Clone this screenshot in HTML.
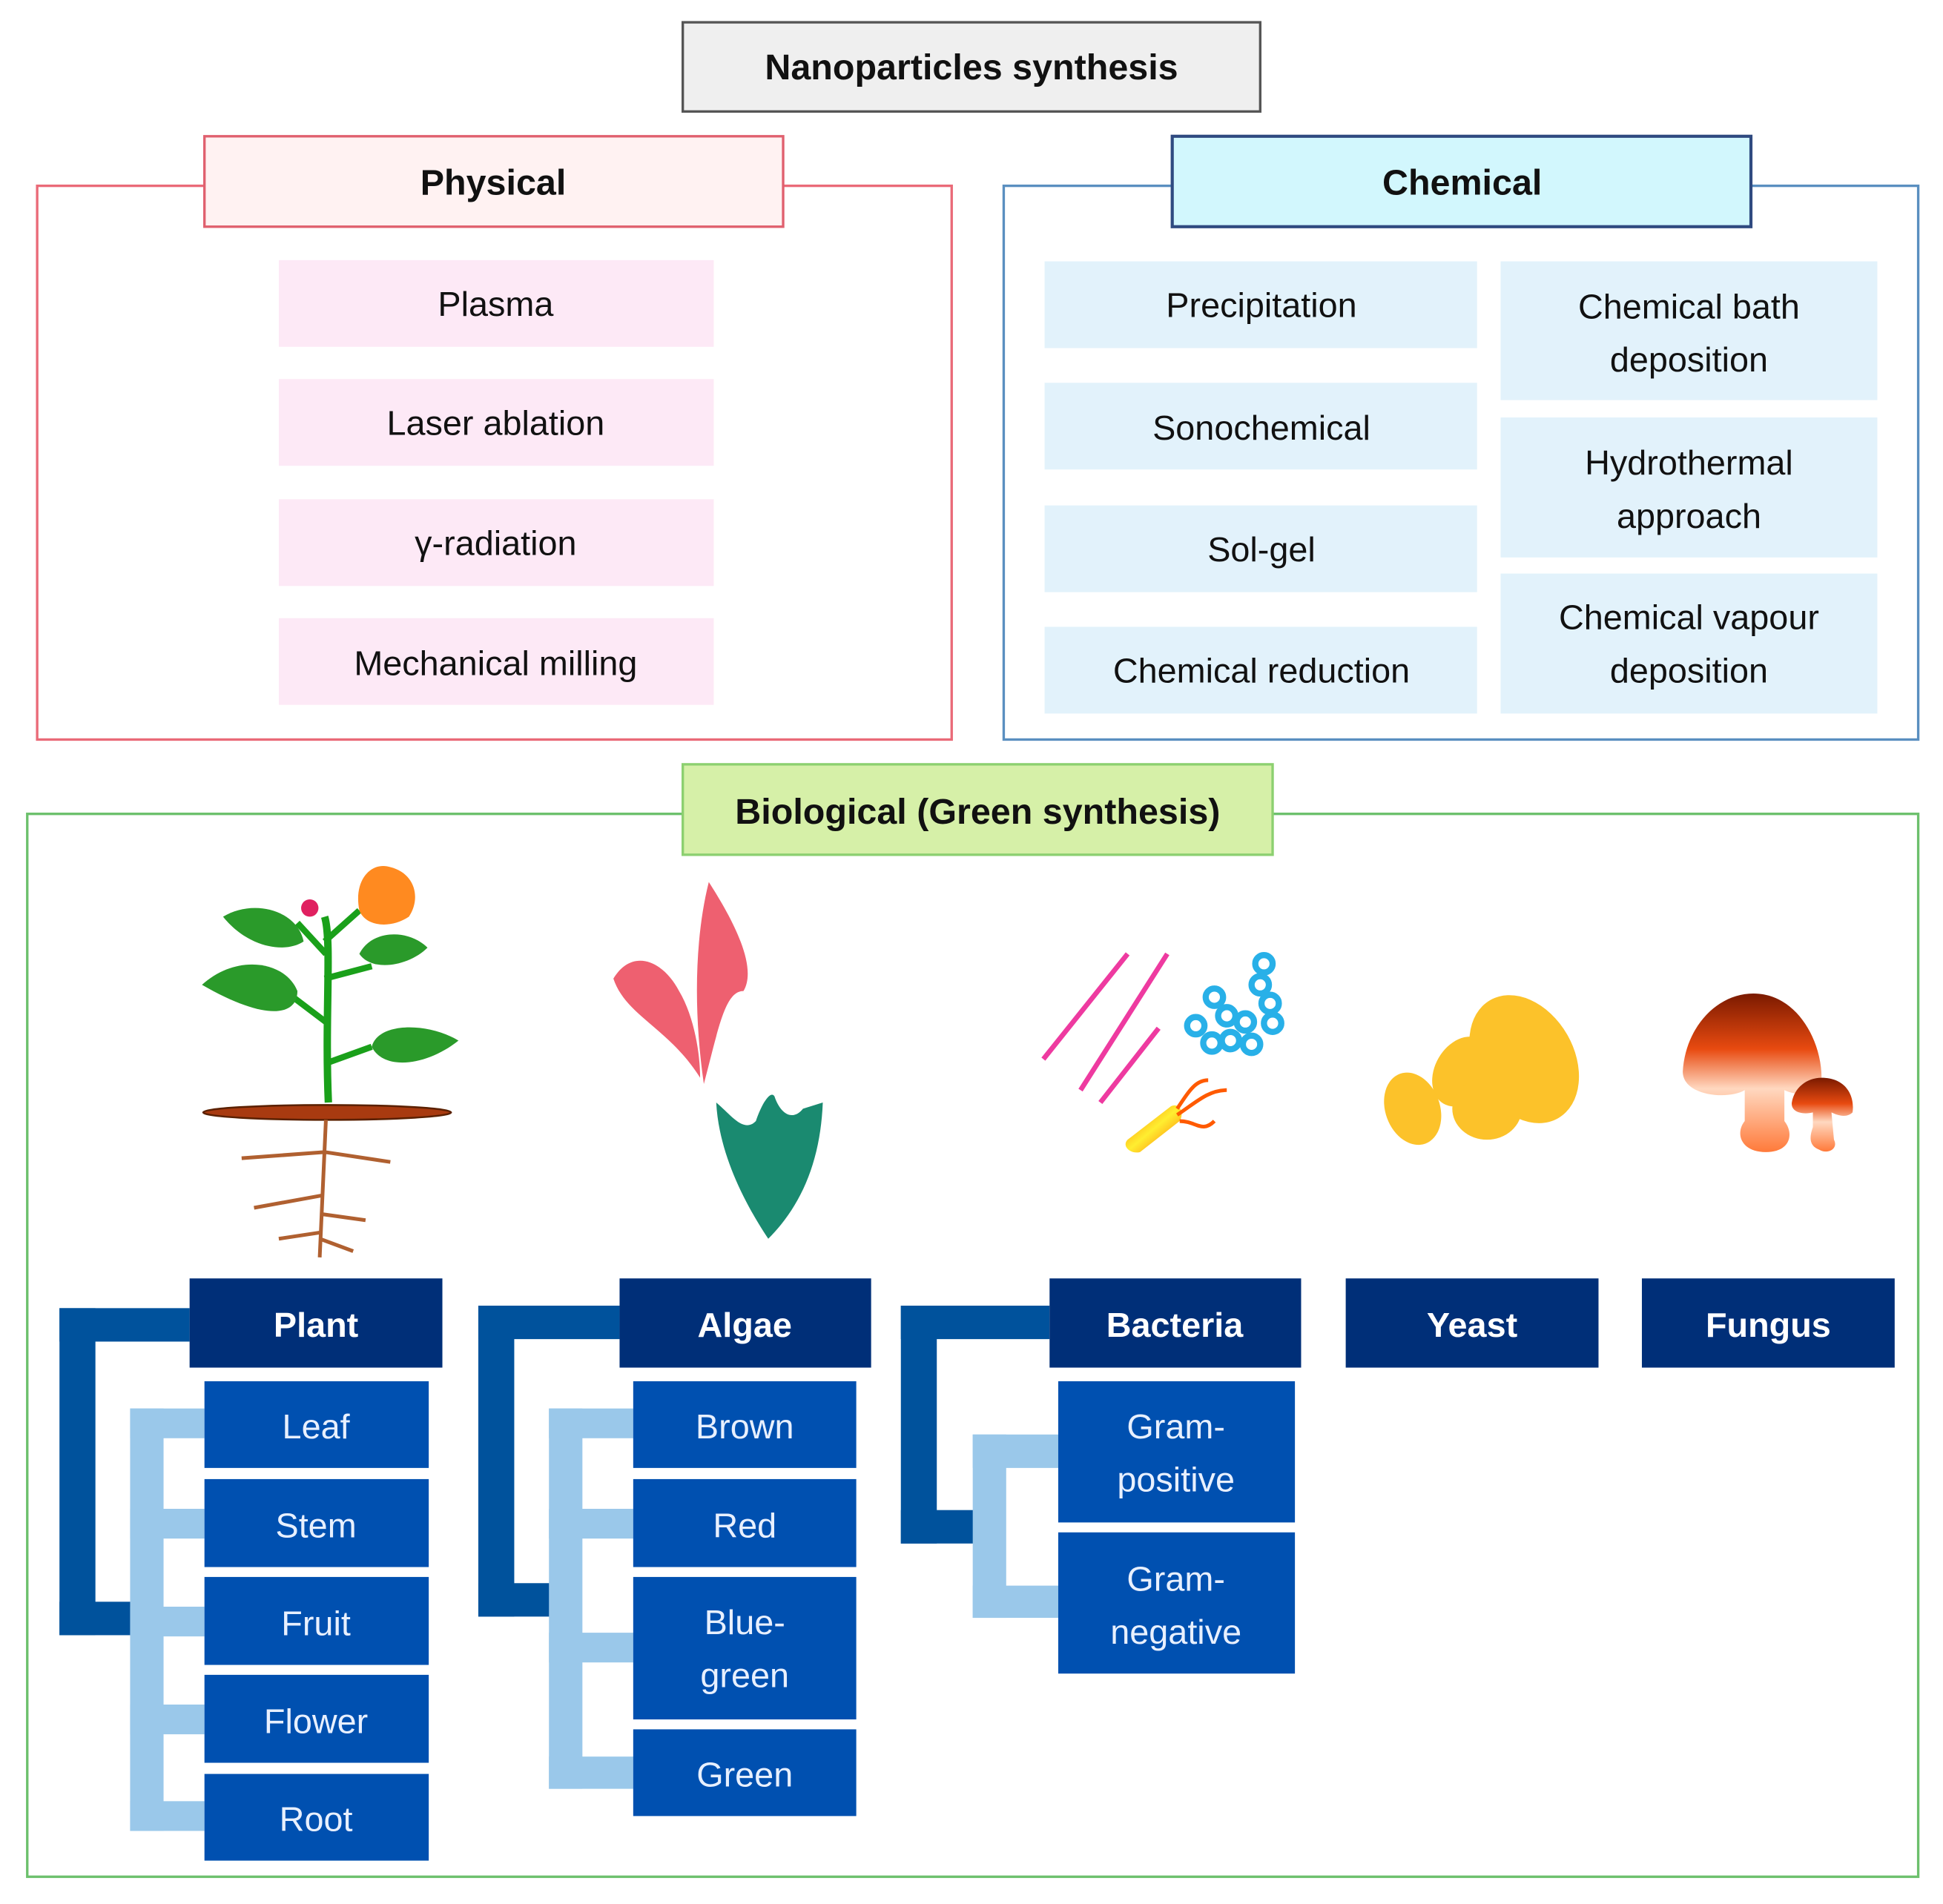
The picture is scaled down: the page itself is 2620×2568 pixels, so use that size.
<!DOCTYPE html>
<html><head><meta charset="utf-8"><style>
html,body{margin:0;padding:0;background:#fff;}
svg{display:block;}
text{font-family:"Liberation Sans",sans-serif;}
</style></head><body>
<svg width="2620" height="2568" viewBox="0 0 1568 1537" preserveAspectRatio="none" xmlns="http://www.w3.org/2000/svg">
<defs>
<linearGradient id="mush" x1="0" y1="0" x2="0" y2="1">
<stop offset="0" stop-color="#7a1a00"/><stop offset="0.35" stop-color="#e84a10"/><stop offset="0.6" stop-color="#ffd8c0"/><stop offset="1" stop-color="#ff7a3a"/></linearGradient>
<linearGradient id="rod" x1="0" y1="0" x2="1" y2="1"><stop offset="0" stop-color="#ff7a00"/><stop offset="0.5" stop-color="#ffee30"/><stop offset="1" stop-color="#ff6a00"/></linearGradient>
</defs>
<rect x="0" y="0" width="1568" height="1537" fill="#fff"/>
<!-- Title -->
<rect x="551" y="18" width="466" height="72" fill="#efefef" stroke="#555" stroke-width="2"/>
<text x="784" y="64" font-size="29" font-weight="bold" text-anchor="middle" fill="#111">Nanoparticles synthesis</text>

<!-- Physical -->
<rect x="30" y="150" width="738" height="447" fill="none" stroke="#ea6a78" stroke-width="2"/>
<rect x="165" y="110" width="467" height="73" fill="#fff2f2" stroke="#e0606e" stroke-width="2"/>
<text x="398" y="157" font-size="29" font-weight="bold" text-anchor="middle" fill="#111">Physical</text>
<g fill="#fde9f6">
<rect x="225" y="210" width="351" height="70"/><rect x="225" y="306" width="351" height="70"/>
<rect x="225" y="403" width="351" height="70"/><rect x="225" y="499" width="351" height="70"/></g>
<g font-size="28" text-anchor="middle" fill="#111">
<text x="400" y="255">Plasma</text><text x="400" y="351">Laser ablation</text>
<text x="400" y="448">γ-radiation</text><text x="400" y="545">Mechanical milling</text></g>

<!-- Chemical -->
<rect x="810" y="150" width="738" height="447" fill="none" stroke="#5a8fc0" stroke-width="2"/>
<rect x="946" y="110" width="467" height="73" fill="#d2f7fd" stroke="#2f4a80" stroke-width="2.5"/>
<text x="1180" y="157" font-size="29" font-weight="bold" text-anchor="middle" fill="#111">Chemical</text>
<g fill="#e2f2fb">
<rect x="843" y="211" width="349" height="70"/><rect x="843" y="309" width="349" height="70"/>
<rect x="843" y="408" width="349" height="70"/><rect x="843" y="506" width="349" height="70"/>
<rect x="1211" y="211" width="304" height="112"/><rect x="1211" y="337" width="304" height="113"/>
<rect x="1211" y="463" width="304" height="113"/></g>
<g font-size="28" text-anchor="middle" fill="#111">
<text x="1018" y="256">Precipitation</text><text x="1018" y="355">Sonochemical</text>
<text x="1018" y="453">Sol-gel</text><text x="1018" y="551">Chemical reduction</text>
<text x="1363" y="257">Chemical bath</text><text x="1363" y="300">deposition</text>
<text x="1363" y="383">Hydrothermal</text><text x="1363" y="426">approach</text>
<text x="1363" y="508">Chemical vapour</text><text x="1363" y="551">deposition</text></g>

<!-- Biological -->
<rect x="22" y="657" width="1526" height="858" fill="none" stroke="#6cc06c" stroke-width="2"/>
<rect x="551" y="617" width="476" height="73" fill="#d6f0a8" stroke="#8cd070" stroke-width="2"/>
<text x="789" y="665" font-size="29" font-weight="bold" text-anchor="middle" fill="#111">Biological (Green synthesis)</text>

<!-- connectors -->
<g fill="#00529c">
<rect x="48" y="1056" width="29" height="264"/><rect x="48" y="1056" width="105" height="27"/><rect x="48" y="1293" width="60" height="27"/>
<rect x="386" y="1054" width="29" height="251"/><rect x="386" y="1054" width="114" height="27"/><rect x="386" y="1278" width="60" height="27"/>
<rect x="727" y="1054" width="29" height="192"/><rect x="727" y="1054" width="120" height="27"/><rect x="727" y="1219" width="60" height="27"/>
</g>
<g fill="#9ac8ea">
<rect x="105" y="1137" width="27" height="341"/>
<rect x="105" y="1137" width="60" height="24"/><rect x="105" y="1218" width="60" height="24"/><rect x="105" y="1297" width="60" height="24"/><rect x="105" y="1376" width="60" height="24"/><rect x="105" y="1454" width="60" height="24"/>
<rect x="443" y="1137" width="27" height="307"/>
<rect x="443" y="1137" width="68" height="24"/><rect x="443" y="1218" width="68" height="24"/><rect x="443" y="1318" width="68" height="24"/><rect x="443" y="1418" width="68" height="26"/>
<rect x="785" y="1158" width="27" height="148"/>
<rect x="785" y="1158" width="69" height="27"/><rect x="785" y="1280" width="69" height="26"/>
</g>
<!-- dark headers -->
<g fill="#002f78">
<rect x="153" y="1032" width="204" height="72"/><rect x="500" y="1032" width="203" height="72"/>
<rect x="847" y="1032" width="203" height="72"/><rect x="1086" y="1032" width="204" height="72"/>
<rect x="1325" y="1032" width="204" height="72"/></g>
<g font-size="28" font-weight="bold" text-anchor="middle" fill="#fff">
<text x="255" y="1079">Plant</text><text x="601" y="1079">Algae</text><text x="948" y="1079">Bacteria</text>
<text x="1188" y="1079">Yeast</text><text x="1427" y="1079">Fungus</text></g>
<!-- sub boxes -->
<g fill="#0050b0">
<rect x="165" y="1115" width="181" height="70"/><rect x="165" y="1194" width="181" height="71"/><rect x="165" y="1273" width="181" height="71"/><rect x="165" y="1352" width="181" height="71"/><rect x="165" y="1432" width="181" height="70"/>
<rect x="511" y="1115" width="180" height="70"/><rect x="511" y="1194" width="180" height="71"/><rect x="511" y="1273" width="180" height="115"/><rect x="511" y="1396" width="180" height="70"/>
<rect x="854" y="1115" width="191" height="114"/><rect x="854" y="1237" width="191" height="114"/></g>
<g font-size="28" text-anchor="middle" fill="#e8f0ff">
<text x="255" y="1161">Leaf</text><text x="255" y="1241">Stem</text><text x="255" y="1320">Fruit</text><text x="255" y="1399">Flower</text><text x="255" y="1478">Root</text>
<text x="601" y="1161">Brown</text><text x="601" y="1241">Red</text><text x="601" y="1319">Blue-</text><text x="601" y="1362">green</text><text x="601" y="1442">Green</text>
<text x="949" y="1161">Gram-</text><text x="949" y="1204">positive</text><text x="949" y="1284">Gram-</text><text x="949" y="1327">negative</text></g>

<!-- plant illustration -->
<g>
<path d="M265 890 C262 820 268 760 262 740" stroke="#1aa01a" stroke-width="6" fill="none"/>
<path d="M262 790 L300 780 M263 825 L230 800 M264 858 L300 845 M263 770 L240 745 M262 760 L290 735" stroke="#1aa01a" stroke-width="5" fill="none"/>
<path d="M163 795 C190 770 230 775 240 800 C240 820 215 825 163 795Z" fill="#2a9a2a"/>
<path d="M180 740 C205 725 240 735 245 760 C230 770 200 765 180 740Z" fill="#2a9a2a"/>
<path d="M290 770 C300 750 330 750 345 765 C330 780 300 785 290 770Z" fill="#2a9a2a"/>
<path d="M300 845 C305 825 345 825 370 840 C345 860 310 865 300 845Z" fill="#2a9a2a"/>
<path d="M290 735 C285 710 300 695 315 700 C335 705 340 725 330 740 C315 750 295 748 290 735Z" fill="#ff8a20"/>
<circle cx="250" cy="733" r="7" fill="#e02060"/>
<ellipse cx="264" cy="898" rx="100" ry="6" fill="#a83a10" stroke="#5a2000" stroke-width="1.5"/>
<path d="M263 904 L258 1015 M262 930 L195 935 M262 930 L315 938 M260 965 L205 975 M259 980 L295 985 M258 995 L225 1000 M258 1000 L285 1010" stroke="#b06030" stroke-width="3" fill="none"/>
</g>
<!-- algae -->
<path d="M568 875 C560 820 560 760 572 712 C590 740 612 780 600 800 C585 800 580 830 568 875Z" fill="#ee6070"/>
<path d="M565 870 C540 830 505 820 495 790 C510 765 535 775 548 800 C560 820 565 850 565 870Z" fill="#ee6070"/>
<path d="M620 1000 C600 970 580 930 578 890 C590 900 600 915 610 905 C615 890 622 880 625 885 C630 900 640 905 648 895 L664 890 C662 940 645 975 620 1000Z" fill="#1a8a70"/>
<!-- bacteria -->
<g fill="none" stroke="#ee3aa0" stroke-width="4">
<path d="M842 855 L910 770"/><path d="M872 880 L942 770"/><path d="M888 890 L935 830"/></g>
<g fill="none" stroke="#28b0e8" stroke-width="5">
<circle cx="1020" cy="778" r="7"/><circle cx="1017" cy="795" r="7"/><circle cx="1025" cy="810" r="7"/><circle cx="1027" cy="826" r="7"/>
<circle cx="980" cy="805" r="7"/><circle cx="990" cy="820" r="7"/><circle cx="1005" cy="825" r="7"/>
<circle cx="965" cy="828" r="7"/><circle cx="978" cy="842" r="7"/><circle cx="993" cy="840" r="7"/><circle cx="1010" cy="843" r="7"/></g>
<path d="M910 920 L945 893 C952 890 956 898 952 905 L920 930 C912 932 905 925 910 920Z" fill="url(#rod)"/>
<path d="M950 895 C960 880 965 872 975 872 M950 900 C965 890 975 880 990 880 M952 905 C965 905 970 915 980 905" stroke="#ff5a00" stroke-width="3" fill="none"/>
<!-- yeast -->
<g fill="#fcc22a">
<ellipse cx="1230" cy="855" rx="40" ry="55" transform="rotate(-30 1230 855)"/>
<ellipse cx="1180" cy="865" rx="22" ry="30" transform="rotate(30 1180 865)"/>
<ellipse cx="1140" cy="895" rx="22" ry="30" transform="rotate(-20 1140 895)"/>
<ellipse cx="1200" cy="895" rx="28" ry="25"/></g>
<!-- mushrooms -->
<path d="M1415 802 C1450 802 1470 840 1470 870 C1470 885 1450 885 1440 880 L1440 905 C1448 915 1445 930 1425 930 C1405 930 1400 915 1408 905 L1408 880 C1395 888 1358 885 1358 865 C1360 830 1385 802 1415 802Z" fill="url(#mush)"/>
<path d="M1470 870 C1490 870 1497 885 1495 898 C1490 903 1482 900 1478 898 L1480 920 C1484 928 1474 932 1468 928 C1460 925 1460 918 1463 910 L1463 898 C1455 900 1445 898 1446 890 C1448 878 1458 870 1470 870Z" fill="url(#mush)"/>
</svg>
</body></html>
